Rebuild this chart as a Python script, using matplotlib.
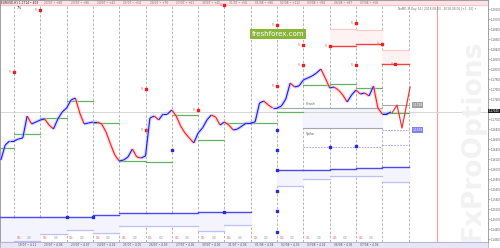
import numpy as np
import matplotlib
matplotlib.use("Agg")
import matplotlib.pyplot as plt
from matplotlib.collections import LineCollection

# H4 closes, first bar at day -0.5, six bars per day
closes = [1.1618, 1.1648, 1.1656, 1.1656, 1.1660, 1.1662, 1.1706, 1.1690, 1.1694, 1.1698,
          1.1700, 1.1688, 1.1680, 1.1700, 1.1714, 1.1722, 1.1738, 1.1742, 1.1712, 1.1690,
          1.1692, 1.1694, 1.1694, 1.1690, 1.1674, 1.1650, 1.1628, 1.1616, 1.1618, 1.1624,
          1.1640, 1.1624, 1.1622, 1.1626, 1.1702, 1.1706, 1.1698, 1.1710, 1.1710, 1.1718,
          1.1706, 1.1686, 1.1672, 1.1662, 1.1652, 1.1672, 1.1682, 1.1698, 1.1708, 1.1704,
          1.1688, 1.1694, 1.1688, 1.1678, 1.1680, 1.1686, 1.1692, 1.1692, 1.1694, 1.1732,
          1.1736, 1.1728, 1.1722, 1.1722, 1.1726, 1.1740, 1.1772, 1.1764, 1.1766, 1.1778,
          1.1782, 1.1786, 1.1792, 1.1800, 1.1782, 1.1762, 1.1764, 1.1758, 1.1748, 1.1734,
          1.1748, 1.1758, 1.1750, 1.1752, 1.1746, 1.1766, 1.1722, 1.1710, 1.1710, 1.1714]
start_day = -0.5
bars_per_day = 6

# projected path (day, price)
proj_days = [14.37, 14.56, 14.75, 15.06]
proj_prices = [1.1712, 1.1728, 1.1682, 1.1764]

# previous-day close per interval (interval j spans day j-1 .. j)
prev_close = [1.1642, 1.1670, 1.1702, 1.1736, 1.1692, 1.1616, 1.1614, 1.1708,
              1.1658, 1.1692, 1.1692, 1.1714, 1.1768, 1.1770, 1.1762, 1.1712]

# resistance zones: (day from, day to, top, bottom)
res_zones = [(12, 13, 1.1880, 1.1846), (13, 14, 1.1878, 1.1850), (14, 15, 1.1838, 1.1810)]
res_dots_day = [0, 1, 8, 5, 5, 10, 10, 11, 11, 7, 12, 13, 13, 14, 14.5]
res_dots_price = [1.1794, 1.1918, 1.1928, 1.1760, 1.1678, 1.1888, 1.1766, 1.1848,
                  1.1808, 1.1718, 1.1846, 1.1892, 1.1808, 1.1850, 1.1810]

# support: (day from, day to, main level, lower level)
sup_zones = [(-0.53, 0, 1.1504, 1.1454), (0, 1, 1.1504, 1.1456), (1, 2, 1.1504, 1.1470),
             (2, 3, 1.1504, 1.1478), (3, 4, 1.1508, 1.1472), (4, 5, 1.1512, 1.1486),
             (5, 6, 1.1512, 1.1486), (6, 7, 1.1512, 1.1486), (7, 8, 1.1514, 1.1476),
             (8, 9, 1.1514, 1.1488), (10, 11, 1.1598, 1.1566), (11, 12, 1.1598, 1.1580),
             (12, 13, 1.1600, 1.1586), (13, 14, 1.1602, 1.1586), (14, 15, 1.1604, 1.1574)]
sup_dots_day = [6, 10, 10, 10, 10, 10, 10, 2, 3, 8, 12, 13]
sup_dots_price = [1.1638, 1.1678, 1.1638, 1.1598, 1.1556, 1.1516, 1.1474,
                  1.1504, 1.1504, 1.1514, 1.1644, 1.1646]

crash_level = 1.1722
spike_level = 1.1682
dotted_level = 1.1644
bid = 1.1714

top_labels = ["", "", "20/07 • +88", "23/07 • +96", "24/07 • +42", "25/07 • +54",
              "26/07 • +70", "27/07 • +61", "30/07 • +45", "31/07 • +58", "01/08 • +96",
              "02/08 • +112", "03/08 • +94", "06/08 • +87", "07/08 • +58", ""]
bot_labels = ["", "19/07 • 4.11", "20/07 • 4.06", "23/07 • 4.07", "24/07 • 4.02", "25/07 • 4.05",
              "26/07 • 4.03", "27/07 • 4.05", "30/07 • 4.05", "31/07 • 4.06", "01/08 • 4.04",
              "02/08 • 4.03", "03/08 • 4.02", "06/08 • 4.05", "07/08 • 4.06", ""]

x0, x1 = -0.532, 18.02
y0, y1 = 1.1454, 1.1938

fig = plt.figure(figsize=(5, 2.48), dpi=100)
ax = fig.add_axes([0, 6 / 248, 488 / 500, 242 / 248])
ax.set_xlim(x0, x1)
ax.set_ylim(y0, y1)
ax.set_facecolor("white")

# day separators
for d in range(16):
    ax.axvline(d, color="#a8a8a8", lw=0.6, ls=(0, (3, 2)), zorder=1)
ax.axvline(16.08, color="#ff9a9a", lw=0.8, zorder=1)

# top strip
ax.axhspan(1.1928, y1, color="#ffe2e6", zorder=2)
ax.axhline(1.1928, color="#ffb0b8", lw=0.4, zorder=2)
for j, lab in enumerate(top_labels):
    if lab:
        ax.text(j - 0.5, 1.1933, lab, fontsize=2.1, color="#707070", ha="center", va="center", zorder=3)
ax.text(-0.5, 1.1933, "EURUSD,H1 1.1714 • 403", fontsize=2.1, color="#202020",
        ha="left", va="center", zorder=3)
ax.text(0.1, 1.1922, "7%", fontsize=2.4, color="#404040", ha="left", va="center", zorder=3)
ax.text(14.6, 1.1920, "NoMO-3, Day 14 | 2018.08.03 - 2018.08.06 [+1: 10] ↑", fontsize=2.1,
        color="#707070", ha="left", va="center", zorder=3)

# support zones
for a, b, hi, lo in sup_zones:
    ax.fill_between([a, b], lo, hi, color="#f4f4ff", zorder=1)
    ax.plot([a, b], [hi, hi], color="#4a4af0", lw=1.0, zorder=3)
    ax.plot([a, b], [lo, lo], color="#c0c0f8", lw=0.9, zorder=2)
ax.scatter(sup_dots_day, sup_dots_price, s=3, color="#2a2ae0", marker="s", zorder=4)

# resistance zones
for a, b, hi, lo in res_zones:
    ax.fill_between([a, b], lo, hi, color="#fff2f2", zorder=1)
    ax.plot([a, b], [hi, hi], color="#ffc8c8", lw=0.8, zorder=2)
    ax.plot([a, b], [lo, lo], color="#f04040", lw=1.0, zorder=3)
ax.scatter(res_dots_day, res_dots_price, s=3, color="#f02020", marker="s", zorder=4)
for d, p in zip(res_dots_day, res_dots_price):
    ax.text(d - 0.12, p, "R", fontsize=2.1, color="#f06060", ha="right", va="center", zorder=4)

# crash / spike levels
ax.fill_between([11, 14], spike_level, crash_level, color="#f4f4ff", zorder=1)
ax.plot([10, 14], [crash_level, crash_level], color="#a8a8a8", lw=0.8, zorder=2)
ax.plot([14, 15], [1.1728, 1.1728], color="#a8a8a8", lw=0.8, zorder=2)
ax.plot([11, 14], [spike_level, spike_level], color="#a8a8a8", lw=0.8, zorder=2)
ax.plot([11, 14], [dotted_level, dotted_level], color="#9a9af0", lw=0.6, ls=(0, (2, 1.5)), zorder=2)
ax.plot([14, 15], [1.1678, 1.1678], color="#9a9af0", lw=0.6, ls=(0, (2, 1.5)), zorder=2)
ax.plot([14, 15], [1.1648, 1.1648], color="#9a9af0", lw=0.6, ls=(0, (2, 1.5)), zorder=2)
ax.text(11.1, crash_level + 0.0004, "Crash", fontsize=2.4, color="#606060", ha="left", va="bottom", zorder=4)
ax.text(11.1, spike_level - 0.0008, "Spike", fontsize=2.4, color="#606060", ha="left", va="top", zorder=4)
ax.text(15.15, 1.1728, "1.1728", fontsize=2.1, color="white", ha="left", va="center", zorder=4,
        bbox=dict(boxstyle="square,pad=0.2", fc="#a0a0a0", ec="none"))
ax.text(15.15, 1.1678, "1.1678", fontsize=2.1, color="white", ha="left", va="center", zorder=4,
        bbox=dict(boxstyle="square,pad=0.2", fc="#8080f0", ec="none"))

# previous-day close lines
for j, lvl in enumerate(prev_close):
    a = max(j - 1, x0)
    ax.plot([a, j], [lvl, lvl], color="#62b462", lw=0.9, zorder=3)

# bid line
ax.axhline(bid, color="#d0d0d0", lw=0.6, zorder=1)

# price
days = start_day + np.arange(len(closes)) / bars_per_day
pts = np.column_stack([days, closes])
segs = np.stack([pts[:-1], pts[1:]], axis=1)
up = np.diff(closes) >= 0
pale = ["#b4b4ff" if u else "#ffb8b8" for u in up]
strong = ["#1a1aff" if u else "#ff1a1a" for u in up]
ax.add_collection(LineCollection(segs, colors=pale, linewidths=2.6, alpha=0.5, zorder=4))
ax.add_collection(LineCollection(segs, colors=strong, linewidths=0.8, zorder=5))
ax.plot(proj_days, proj_prices, color="#ff3030", lw=0.9, zorder=5)

# right price axis (the bid label takes the place of the nearest tick)
ax.yaxis.tick_right()
ticks = np.arange(1.1460, 1.19201, 0.0020)
ax.set_yticks(ticks)
ax.set_yticklabels(["" if abs(t - bid) < 0.001 else "%.5f" % t for t in ticks],
                   fontsize=1.9, color="#606060")
ax.tick_params(axis="y", length=1.2, width=0.4, color="#808080", pad=0.5)
ax.set_xticks([])
ax.text(x1 + 0.03, bid + 0.0002, "%.5f" % bid, fontsize=1.9, color="white", ha="left", va="center",
        zorder=6, clip_on=False, bbox=dict(boxstyle="square,pad=0.15", fc="#202020", ec="none"))
for s in ax.spines.values():
    s.set_color("#909090")
    s.set_linewidth(0.6)

# bottom strip
strip = fig.add_axes([0, 0, 488 / 500, 6 / 248])
strip.set_xlim(x0, x1)
strip.set_ylim(0, 1)
strip.set_facecolor("#e6e6f8")
strip.set_xticks([])
strip.set_yticks([])
for s in strip.spines.values():
    s.set_color("#a0a0c0")
    s.set_linewidth(0.5)
for j, lab in enumerate(bot_labels):
    if lab:
        strip.text(j - 0.5, 0.5, lab, fontsize=2.1, color="#505050", ha="center", va="center")
        ax.text(j - 0.9, 1.1462, "0%", fontsize=2.1, color="#f05050", ha="left", va="center", zorder=4)
        ax.text(j - 0.5, 1.1462, "0.0", fontsize=2.1, color="#909090", ha="left", va="center", zorder=4)

# watermarks
fig.text(278 / 500, 1 - 34 / 248, "freshforex.com", fontsize=5, color="white", ha="center", va="center",
         bbox=dict(boxstyle="square,pad=0.25", fc="#8ab43a", ec="none"))
fig.text(473 / 500, 1 - 140 / 248, "FxProOptions", fontsize=19, fontweight="bold", color="#f2f2f2",
         rotation=90, ha="center", va="center", zorder=0)

fig.savefig("out.png", dpi=100)
